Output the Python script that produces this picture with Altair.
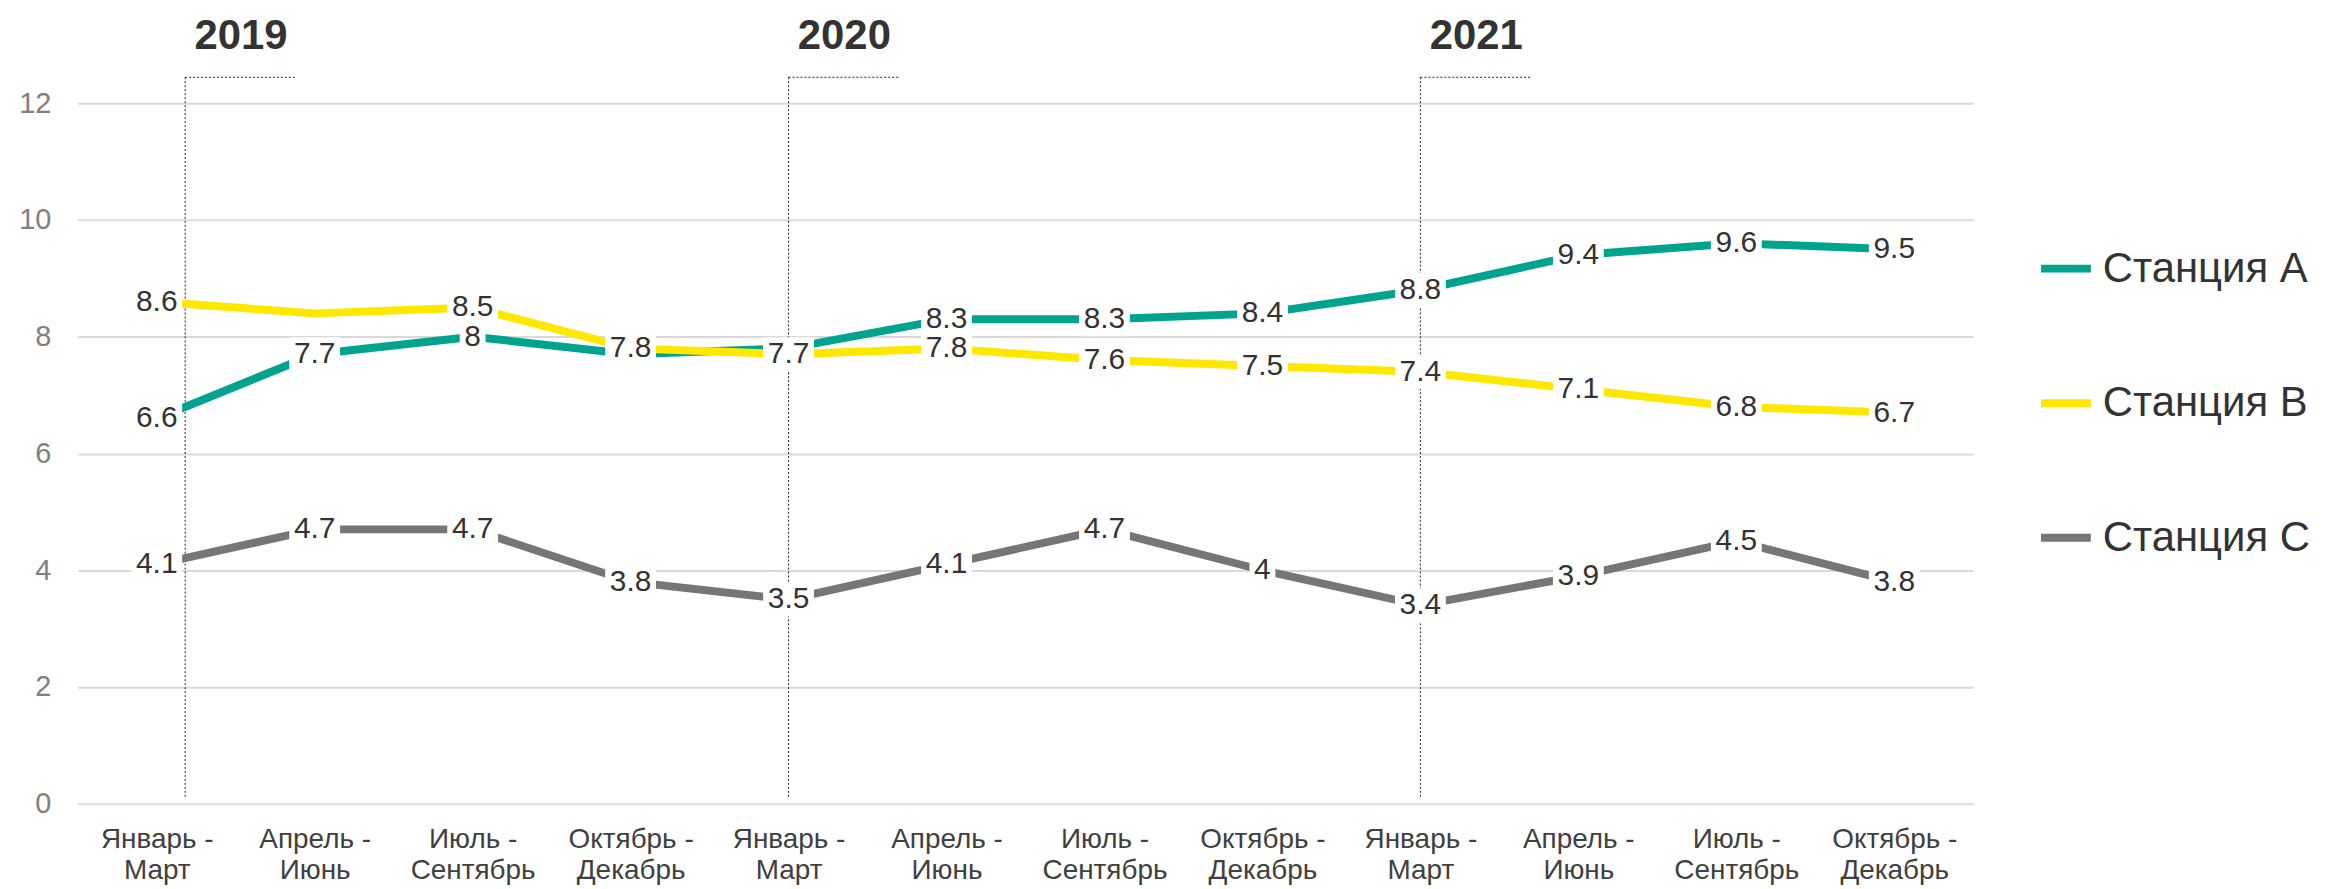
import altair as alt
import pandas as pd

# ---------------- data ----------------
period_line1 = ["Январь -", "Апрель -", "Июль -", "Октябрь -"] * 3
period_line2 = ["Март", "Июнь", "Сентябрь", "Декабрь"] * 3

years = ["2019", "2020", "2021"]
year_start_index = [0, 4, 8]

series_names = ["Станция A", "Станция B", "Станция C"]
station_a = [6.6, 7.7, 8.0, 7.7, 7.8, 8.3, 8.3, 8.4, 8.8, 9.4, 9.6, 9.5]
station_b = [8.6, 8.4, 8.5, 7.8, 7.7, 7.8, 7.6, 7.5, 7.4, 7.1, 6.8, 6.7]
station_c = [4.1, 4.7, 4.7, 3.8, 3.5, 4.1, 4.7, 4.0, 3.4, 3.9, 4.5, 3.8]
# labels not shown in the original (index of period)
hidden_labels = {"Станция A": [3, 4], "Станция B": [1], "Станция C": []}

y_ticks = [0, 2, 4, 6, 8, 10, 12]

# ---------------- styles ----------------
colors = ["#00A38D", "#FFE800", "#767676"]
FONT = "Liberation Sans, Arial, sans-serif"
year_marker_shift = [0.18, 0.0, 0.0]   # first marker drawn slightly right of the category
box_width_by_len = {1: 26, 3: 51}      # white label box width (px) by label length

rows = []
for name, vals in zip(series_names, [station_a, station_b, station_c]):
    for i, v in enumerate(vals):
        lbl = f"{v:g}"
        rows.append({"series": name, "idx": i, "value": v, "label": lbl,
                     "len": len(lbl), "show": i not in hidden_labels[name]})
df = pd.DataFrame(rows)

annot = pd.DataFrame({
    "year": years,
    "pos": [s + d for s, d in zip(year_start_index, year_marker_shift)],
})

label_arr = "[" + ",".join(f"'{a}|{b}'" for a, b in zip(period_line1, period_line2)) + "]"
label_expr = f"split({label_arr}[datum.value], '|')"

x_enc = alt.X(
    "idx:Q",
    scale=alt.Scale(domain=[-0.5, 11.5], nice=False, zero=False),
    axis=alt.Axis(
        values=list(range(12)), labelExpr=label_expr, grid=False, domain=False,
        ticks=False, labelFontSize=28, labelColor="#404040", labelFont=FONT,
        labelPadding=22, labelLineHeight=31, labelAngle=0, labelOverlap=False,
        labelFlush=False, title=None,
    ),
)
y_enc = alt.Y(
    "value:Q",
    scale=alt.Scale(domain=[0, 12], nice=False),
    axis=alt.Axis(
        values=y_ticks, format="d", grid=True, gridColor="#d9d9d9", gridWidth=2,
        domain=False, ticks=False, labelFontSize=29, labelColor="#808080",
        labelFont=FONT, labelPadding=27, title=None,
    ),
)

base = alt.Chart(df)

# year markers
a_base = alt.Chart(annot)
vrule = a_base.mark_rule(strokeDash=[2, 2], strokeWidth=1, color="#222").encode(
    x=alt.X("pos:Q"), y=alt.value(-26), y2=alt.value(697)
)
hrule = a_base.mark_rule(strokeDash=[2, 2], strokeWidth=1, color="#222", x2Offset=112).encode(
    x=alt.X("pos:Q"), x2=alt.X2("pos"), y=alt.value(-26)
)
ytext = a_base.mark_text(
    font=FONT, fontSize=42, fontWeight="bold", color="#333333",
    align="center", baseline="alphabetic", dx=56,
).encode(x=alt.X("pos:Q"), y=alt.value(-54), text="year:N")

lines = base.mark_line(strokeWidth=8).encode(
    x=x_enc,
    y=y_enc,
    color=alt.Color(
        "series:N",
        scale=alt.Scale(domain=series_names, range=colors),
        legend=alt.Legend(
            title=None, orient="none", legendX=1966, legendY=137,
            symbolType="stroke", symbolSize=2500, symbolStrokeWidth=8,
            labelFontSize=42, labelFont=FONT, labelColor="#333333",
            labelOffset=8, rowPadding=85, padding=0, labelLimit=500,
        ),
    ),
    order="idx:Q",
)

label_layers = []
for name in series_names:
    sub = base.transform_filter(
        (alt.datum.series == name) & (alt.datum.show == True)
    )
    for L, w in box_width_by_len.items():
        box = sub.transform_filter(alt.datum.len == L).mark_rect(
            width=w, height=34, color="white", opacity=1,
        ).encode(x="idx:Q", y="value:Q")
        label_layers.append(box)
    txt = sub.mark_text(
        font=FONT, fontSize=30, baseline="middle", align="center", color="#333333",
    ).encode(x="idx:Q", y="value:Q", text="label:N")
    label_layers.append(txt)

chart = alt.layer(vrule, hrule, ytext, lines, *label_layers).properties(
    width=1902,
    height=703,
    autosize=alt.AutoSizeParams(type="none"),
    padding={"left": 70, "top": 94, "right": 359, "bottom": 84},
    background="white",
).configure_view(stroke=None)

chart.save("out.html", embed_options={"renderer": "svg", "actions": False})
